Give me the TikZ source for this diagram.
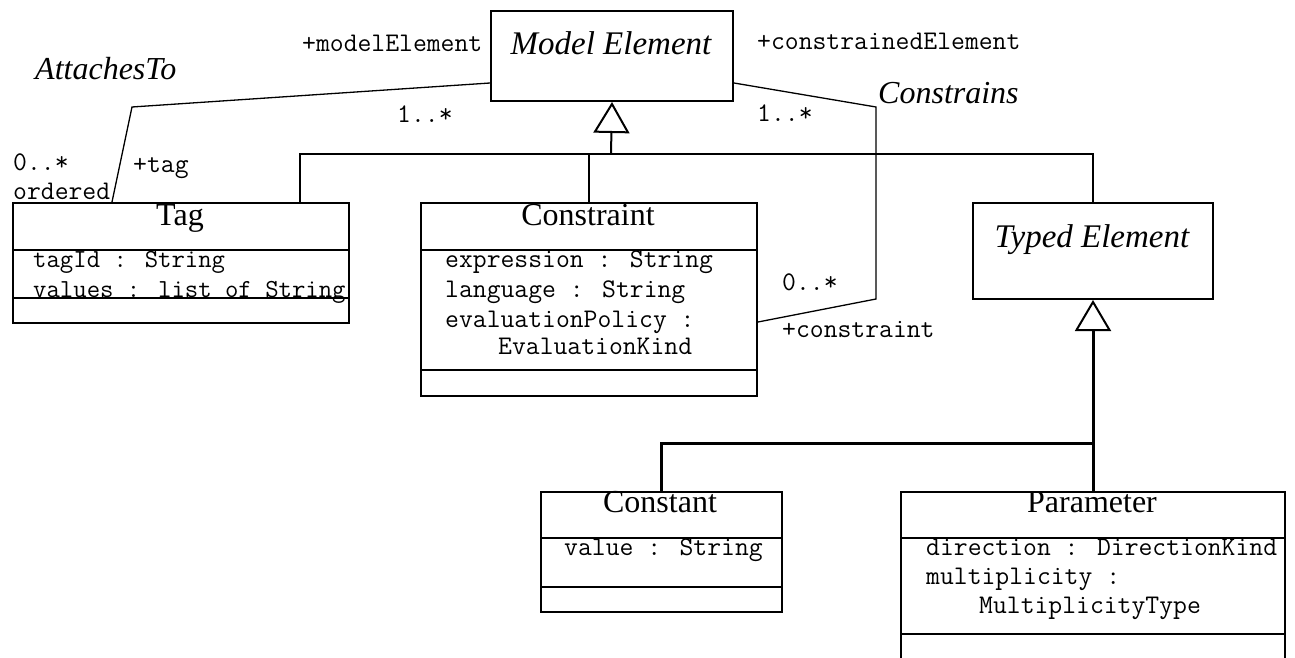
\documentclass[tikz,border=0pt]{standalone}
\usepackage{fontspec}
\setmainfont{Liberation Serif}
\usetikzlibrary{arrows.meta,calc}
\tikzset{
 cls/.style={draw, line width=2pt, inner sep=0pt, anchor=north west},
 nm/.style={font=\fontsize{32}{38}\selectfont, inner sep=0pt, anchor=base},
 inm/.style={font=\fontsize{33}{40}\selectfont\itshape, inner sep=0pt, anchor=base},
 ilbl/.style={font=\fontsize{32}{38}\selectfont\itshape, inner sep=0pt, anchor=base west},
 attr/.style={font=\fontsize{26.9}{30}\selectfont\ttfamily, inner sep=0pt, anchor=base west},
 attrs/.style={font=\fontsize{26}{30}\selectfont\ttfamily, inner sep=0pt, anchor=base west},
 assoc/.style={line width=1.3pt},
 genl/.style={line width=2pt},
 genlb/.style={line width=3pt},
 gtip/.style={-{Triangle[open,length=31pt,width=36pt,line width=2pt]}},
 sep/.style={line width=2pt},
}
\begin{document}
\begin{tikzpicture}[x=1pt,y=-1pt]
\useasboundingbox (0,0) rectangle (1295,658);
\clip (0,0) rectangle (1295,658);
\fill[white] (0,0) rectangle (1295,658);

% class boxes
\node[cls, minimum width=242pt, minimum height=90pt] (me) at (490,10) {};
\node[cls, minimum width=336pt, minimum height=120pt] (tag) at (12,202) {};
\node[cls, minimum width=336pt, minimum height=193pt] (con) at (420,202) {};
\node[cls, minimum width=240pt, minimum height=96pt] (te) at (972,202) {};
\node[cls, minimum width=241pt, minimum height=120pt] (cst) at (540,491) {};
\node[cls, minimum width=384pt, minimum height=190pt] (par) at (900,491) {};

% compartments
\draw[sep] ($(tag.north west)+(0,48)$) -- ($(tag.north east)+(0,48)$);
\draw[sep] ($(tag.north west)+(0,96)$) -- ($(tag.north east)+(0,96)$);
\draw[sep] ($(con.north west)+(0,48)$) -- ($(con.north east)+(0,48)$);
\draw[sep] ($(con.north west)+(0,168)$) -- ($(con.north east)+(0,168)$);
\draw[sep] ($(cst.north west)+(0,47)$) -- ($(cst.north east)+(0,47)$);
\draw[sep] ($(cst.north west)+(0,96)$) -- ($(cst.north east)+(0,96)$);
\draw[sep] ($(par.north west)+(0,47)$) -- ($(par.north east)+(0,47)$);
\draw[sep] ($(par.north west)+(0,143)$) -- ($(par.north east)+(0,143)$);

% class names
\node[inm] (tme) at (611,55) {Model Element};
\node[nm] (ttag) at (180,225) {Tag};
\node[nm] (tcon) at (588,225) {Constraint};
\node[inm] (tte) at (1092,247) {Typed Element};
\node[nm] (tcst) at (660,512) {Constant};
\node[nm] (tpar) at (1092,512) {Parameter};

% attributes
\node[attrs] (a1t) at (33,267) {tagId : String};
\node[attrs] (a2t) at (33,297) {values : list of String};
\node[attr] (a1c) at (445,267) {expression : String};
\node[attr] (a2c) at (445,297) {language : String};
\node[attr] (a3c) at (445,327) {evaluationPolicy :};
\node[attr] (a4c) at (498,354) {EvaluationKind};
\node[attr] (a1k) at (564,555) {value : String};
\node[attr] (a1p) at (926,555) {direction : DirectionKind};
\node[attr] (a2p) at (926,584) {multiplicity :};
\node[attr] (a3p) at (979,613) {MultiplicityType};

% association labels
\node[ilbl] (lat) at (35,80) {AttachesTo};
\node[ilbl] (lcs) at (878,104) {Constrains};
\node[attr] (lme) at (302,52) {+modelElement};
\node[attr] (lce) at (757,50) {+constrainedElement};
\node[attr] (lm1) at (397,123) {1..*};
\node[attr] (lm2) at (757,122) {1..*};
\node[attr] (lm3) at (13,170) {0..*};
\node[attr] (ltg) at (133,172) {+tag};
\node[attr] (lor) at (13,199) {ordered};
\node[attr] (lm4) at (782,290) {0..*};
\node[attr] (lcn) at (782,337) {+constraint};

% associations
\coordinate (b1) at (132,107);
\draw[assoc] ($(me.north west)+(0,73)$) -- (b1) -- ($(tag.north west)+(100,0)$);
\coordinate (c1) at (876,107);
\coordinate (c2) at (876,299);
\draw[assoc] ($(me.north east)+(0,73)$) -- (c1) -- (c2) -- ($(con.north east)+(0,120)$);

% generalizations
\coordinate (j1) at (611,154);
\draw[genl] ($(tag.north west)+(288,0)$) |- (j1) -| (te.north);
\draw[genl] (con.north) |- (j1);
\draw[genl,gtip] (j1) -- (me.south);

\coordinate (j2) at (1092,443);
\draw[genlb] (cst.north) |- (j2);
\draw[genlb,gtip] (par.north) -- (te.south);
\end{tikzpicture}
\end{document}
